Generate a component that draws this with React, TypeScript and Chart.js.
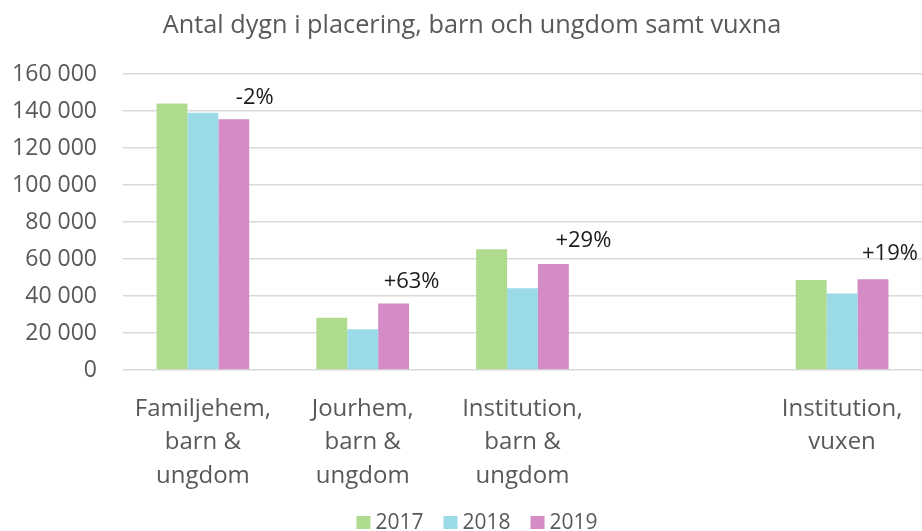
import React, { useEffect, useRef } from "react";
import { Chart, registerables } from "chart.js";

Chart.register(...registerables);

const categories: (string | string[])[] = [
  ["Familjehem,", "barn &", "ungdom"],
  ["Jourhem,", "barn &", "ungdom"],
  ["Institution,", "barn &", "ungdom"],
  "",
  ["Institution,", "vuxen"],
];
const seriesNames = ["2017", "2018", "2019"];
const values2017 = [144000, 28200, 65300, null, 48700];
const values2018 = [139000, 22000, 44200, null, 41300];
const values2019 = [135600, 36000, 57300, null, 49000];
const changeLabels = ["-2%", "+63%", "+29%", "", "+19%"];
const yMin = 0;
const yMax = 160000;
const yStep = 20000;
const titleText = "Antal dygn i placering, barn och ungdom samt vuxna";

// styling
const colors = ["#aedb8e", "#9bdbe8", "#d58bc6"];
const labelDx = [21, 18, 30, 0, 17];
const labelDy = [-21, -22, -23, 0, -26];
const FONT = "'Open Sans', 'Noto Sans', sans-serif";
const TEXT = "#595959";

const fmt = (v: number) => String(v).replace(/\B(?=(\d{3})+(?!\d))/g, " ");

const changeLabelPlugin = {
  id: "changeLabels",
  afterDatasetsDraw(chart: any) {
    const meta = chart.getDatasetMeta(2);
    const ctx = chart.ctx;
    ctx.save();
    ctx.font = `22px ${FONT}`;
    ctx.fillStyle = "#1a1a1a";
    ctx.textAlign = "center";
    ctx.textBaseline = "middle";
    changeLabels.forEach((t, i) => {
      if (!t) return;
      const el = meta.data[i];
      if (!el) return;
      ctx.fillText(t, el.x + labelDx[i], el.y + labelDy[i]);
    });
    ctx.restore();
  },
};

const titleLegendPlugin = {
  id: "titleLegend",
  afterDraw(chart: any) {
    const ctx = chart.ctx;
    const W = chart.width;
    const H = chart.height;
    ctx.save();
    // title
    ctx.font = `25.3px ${FONT}`;
    ctx.fillStyle = TEXT;
    ctx.textAlign = "center";
    ctx.textBaseline = "alphabetic";
    ctx.fillText(titleText, W / 2 + 11, 32.5);
    // legend
    ctx.font = `21px ${FONT}`;
    const box = 14;
    const gap = 5;
    const itemGap = 20;
    const widths = seriesNames.map((n) => box + gap + ctx.measureText(n).width);
    const total = widths.reduce((a, b) => a + b, 0) + itemGap * (widths.length - 1);
    let x = W / 2 + 16 - total / 2;
    const baseline = H - 2;
    ctx.textAlign = "left";
    seriesNames.forEach((n, i) => {
      ctx.fillStyle = colors[i];
      ctx.fillRect(x, baseline - 13, box, 13);
      ctx.fillStyle = TEXT;
      ctx.fillText(n, x + box + gap, baseline);
      x += widths[i] + itemGap;
    });
    ctx.restore();
  },
};

export default function App() {
  const ref = useRef<HTMLCanvasElement | null>(null);
  useEffect(() => {
    if (!ref.current) return;
    const data = [values2017, values2018, values2019];
    const chart = new Chart(ref.current, {
      type: "bar",
      data: {
        labels: categories as any,
        datasets: seriesNames.map((n, i) => ({
          label: n,
          data: data[i] as any,
          backgroundColor: colors[i],
          borderWidth: 0,
          barPercentage: 1,
          categoryPercentage: 0.58,
        })),
      },
      options: {
        animation: false,
        responsive: true,
        maintainAspectRatio: false,
        layout: { padding: { left: 0, right: -6, top: 74, bottom: 0 } },
        plugins: {
          title: { display: false },
          legend: { display: false },
          tooltip: { enabled: false },
        },
        scales: {
          x: {
            grid: { display: false },
            border: { display: false },
            ticks: {
              color: TEXT,
              font: { family: FONT, size: 24, lineHeight: 1.4 },
              padding: 14,
              maxRotation: 0,
              autoSkip: false,
            },
            afterFit: (s: any) => {
              s.height = 161;
            },
          },
          y: {
            min: yMin,
            max: yMax,
            border: { display: false },
            grid: { color: "#d9d9d9", lineWidth: 1.5, drawTicks: false },
            ticks: {
              stepSize: yStep,
              color: TEXT,
              font: { family: FONT, size: 23 },
              padding: 26,
              callback: (v: any) => fmt(Number(v)),
            },
            afterFit: (s: any) => {
              s.width = 123;
            },
          },
        },
      },
      plugins: [changeLabelPlugin, titleLegendPlugin],
    });
    return () => chart.destroy();
  }, []);
  return (
    <div style={{ position: "fixed", left: 0, top: 0, width: 922, height: 531, background: "#fff" }}>
      <canvas ref={ref} />
    </div>
  );
}
